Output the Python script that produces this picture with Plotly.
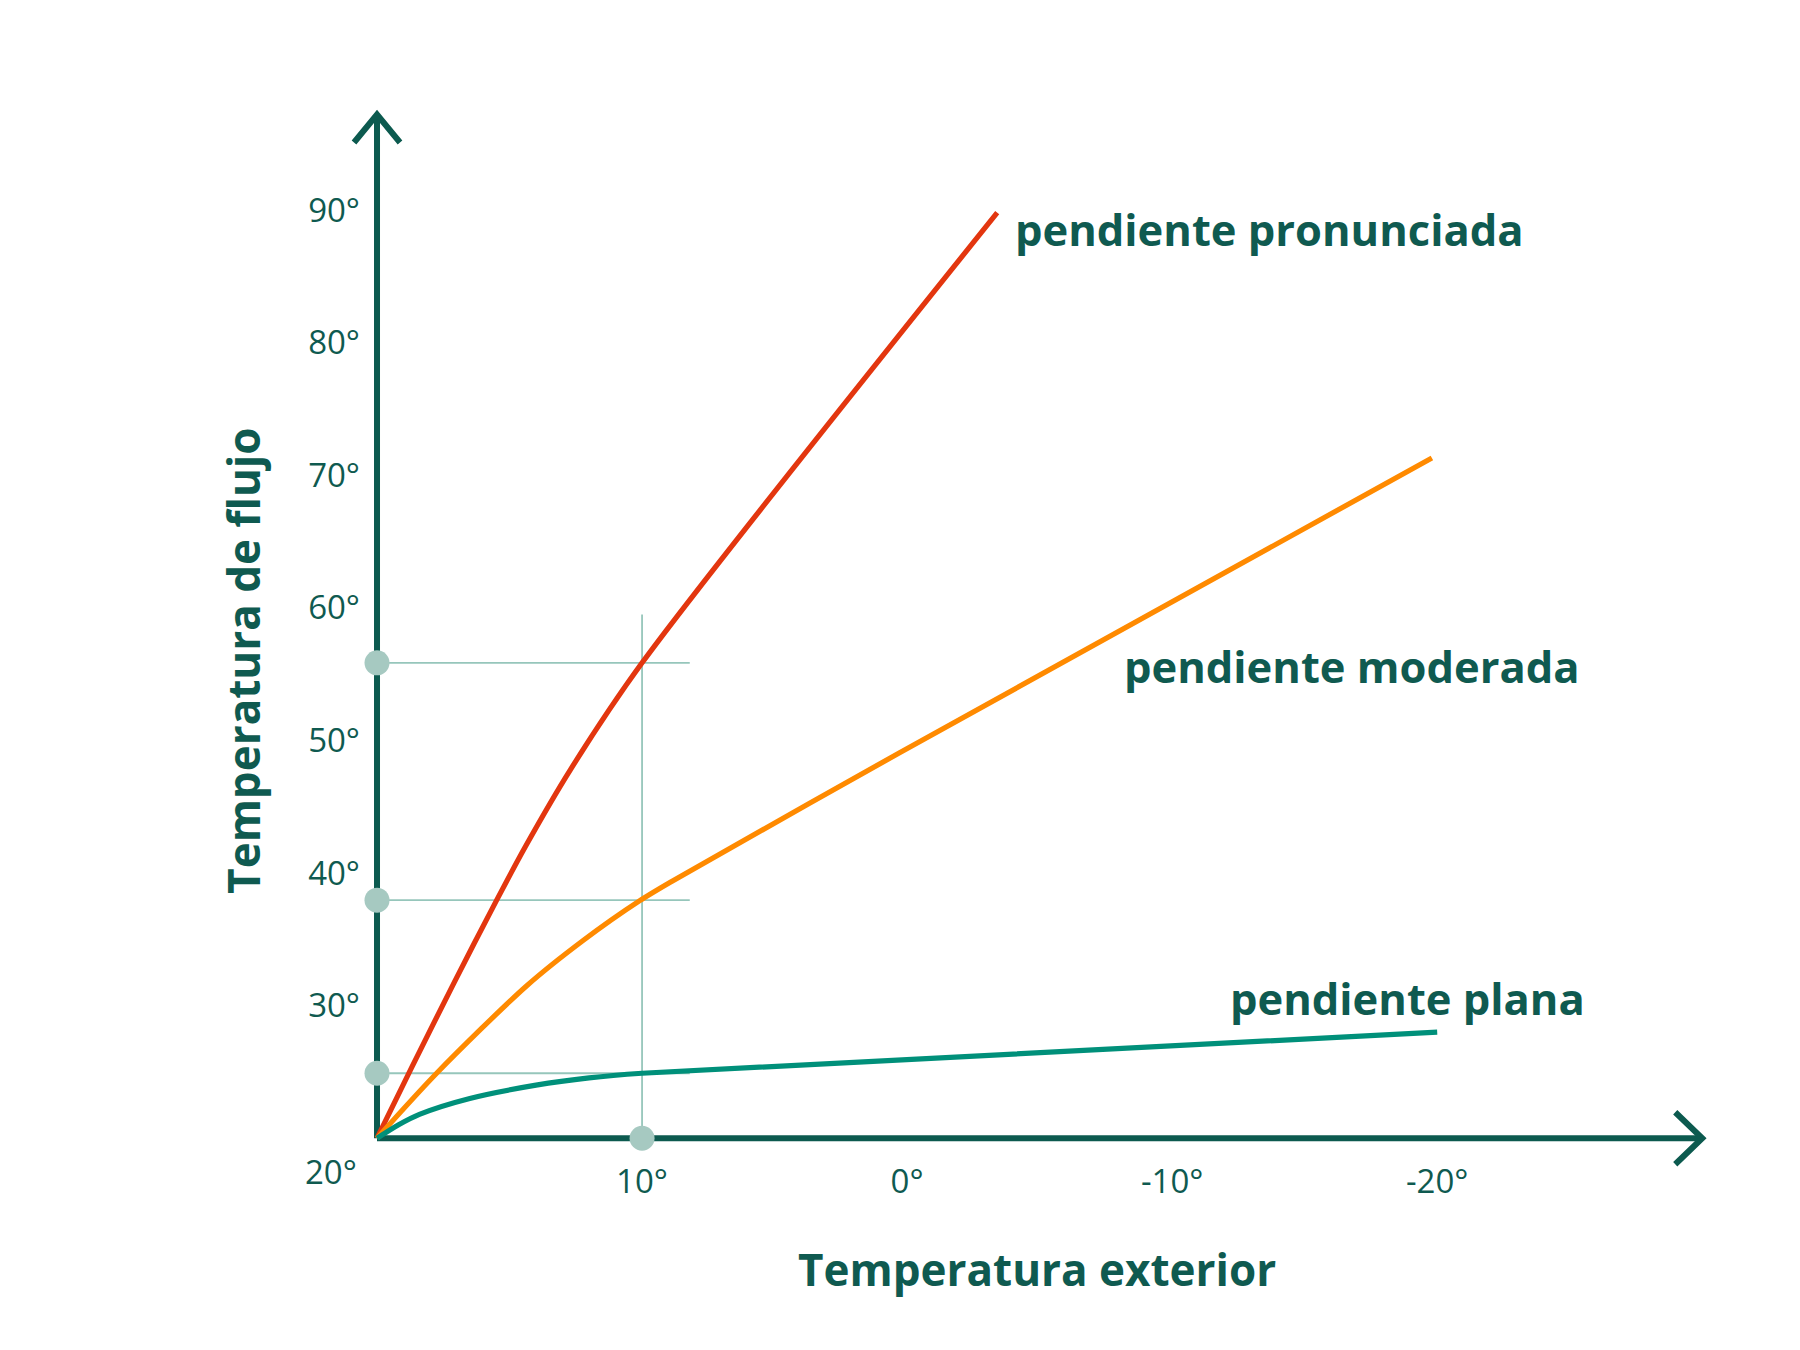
import plotly.graph_objects as go

# ---------------- data ----------------
# outside temperature (x, reversed: 20° at left, -30° at right) vs flow temperature (y)
red_x = [20, 18.7, 17.1, 15.5, 14.4, 12.7, 10, -3.4]
red_y = [20, 25.3, 31.7, 37.9, 42.0, 47.8, 55.85, 89.8]

orange_x = [20, 17.75, 14.35, 12.2, 10.1, 8.9, 0.3, -19.8]
orange_y = [20, 24.9, 31.5, 34.95, 37.9, 39.35, 49.05, 71.3]

green_x = [20, 19.2, 18.4, 16.5, 14.0, 12.0, 10, -20]
green_y = [20, 21.0, 21.8, 23.0, 24.0, 24.55, 24.9, 28.0]

series_names = ["pendiente pronunciada", "pendiente moderada", "pendiente plana"]
label_x = [-4.0, -8.1, -12.1]
label_y = [88.5, 55.6, 30.5]

guide_x = 10                     # outside temperature marked by the guide
guide_y = [55.85, 37.95, 24.9]   # resulting flow temperatures
guide_h_end = 8.2
guide_v_top = 59.5

x_ticks = [10, 0, -10, -20]
x_tick_text = ["10°", "0°", "-10°", "-20°"]
y_ticks = [30, 40, 50, 60, 70, 80, 90]
y_tick_text = ["30°", "40°", "50°", "60°", "70°", "80°", "90°"]
origin_text = "20°"

x_title = "Temperatura exterior"
y_title = "Temperatura de flujo"

# axis extents
x0, x_end = 20, -30
y0, y_end = 20, 97.2
x_range = [22, -31.5]
y_range = [17, 99.5]

# ---------------- styles ----------------
DARK = "#0c5a4f"
TEXT = "#0f5a50"
RED = "#e3360f"
ORANGE = "#ff8a00"
GREEN = "#00907a"
GUIDE = "#96c6bb"
DOT = "#a6c9c1"
FONT = "Open Sans"

fig = go.Figure()

# guide lines
for gy in guide_y:
    fig.add_trace(go.Scatter(x=[x0, guide_h_end], y=[gy, gy], mode="lines",
                             line=dict(color=GUIDE, width=1.8), hoverinfo="skip"))
fig.add_trace(go.Scatter(x=[guide_x, guide_x], y=[y0, guide_v_top], mode="lines",
                         line=dict(color=GUIDE, width=1.8), hoverinfo="skip"))

# curves
for xs, ys, col in [(red_x, red_y, RED), (orange_x, orange_y, ORANGE), (green_x, green_y, GREEN)]:
    fig.add_trace(go.Scatter(x=xs, y=ys, mode="lines",
                             line=dict(color=col, width=5.2, shape="spline", smoothing=0.8)))

# dots on axes
fig.add_trace(go.Scatter(x=[x0] * len(guide_y) + [guide_x], y=guide_y + [y0], mode="markers",
                         marker=dict(color=DOT, size=25, line=dict(width=0)), hoverinfo="skip"))

# axis lines with chevron arrows
AXW = 6
shapes = [
    dict(type="line", x0=x0, y0=y0, x1=x0, y1=y_end, xref="x", yref="y",
         line=dict(color=DARK, width=AXW), layer="below"),
    dict(type="line", x0=x0, y0=y0, x1=x_end, y1=y0, xref="x", yref="y",
         line=dict(color=DARK, width=AXW), layer="below"),
    dict(type="path", xref="x", yref="y", xsizemode="pixel", ysizemode="pixel",
         xanchor=x0, yanchor=y_end, path="M -23,-28 L 0,0 L 23,-28",
         line=dict(color=DARK, width=AXW), layer="below"),
    dict(type="path", xref="x", yref="y", xsizemode="pixel", ysizemode="pixel",
         xanchor=x_end, yanchor=y0, path="M -27,26 L 0,0 L -27,-26",
         line=dict(color=DARK, width=AXW), layer="below"),
]

annotations = []
for name, lx, ly in zip(series_names, label_x, label_y):
    annotations.append(dict(x=lx, y=ly, xref="x", yref="y", text=name, showarrow=False,
                            xanchor="left", yanchor="middle",
                            font=dict(family=FONT, size=43.5, color=TEXT, weight=700)))
annotations.append(dict(x=x0, y=y0, xref="x", yref="y", text=origin_text, showarrow=False,
                        xanchor="right", yanchor="middle", xshift=-18, yshift=-33,
                        font=dict(family=FONT, size=33, color=TEXT)))
annotations.append(dict(x=(x0 + x_end) / 2 + 0.1, y=y0, xref="x", yref="y", text=x_title,
                        showarrow=False, xanchor="center", yanchor="middle", yshift=-131,
                        font=dict(family=FONT, size=44, color=TEXT, weight=700)))
annotations.append(dict(x=x0, y=56, xref="x", yref="y", text=y_title, showarrow=False,
                        xanchor="center", yanchor="middle", xshift=-134, textangle=-90,
                        font=dict(family=FONT, size=44, color=TEXT, weight=700)))

fig.update_layout(
    width=1800, height=1350,
    margin=dict(l=324, r=58, t=84, b=172),
    paper_bgcolor="white", plot_bgcolor="white",
    showlegend=False,
    shapes=shapes, annotations=annotations,
    xaxis=dict(range=x_range, showgrid=False, zeroline=False, showline=False,
               tickvals=x_ticks, ticktext=x_tick_text, ticks="",
               anchor="free", position=(y0 - y_range[0]) / (y_range[1] - y_range[0]),
               ticklabelstandoff=21,
               tickfont=dict(family=FONT, size=33, color=TEXT)),
    yaxis=dict(range=y_range, showgrid=False, zeroline=False, showline=False,
               tickvals=y_ticks, ticktext=y_tick_text, ticks="",
               anchor="free", position=(x_range[0] - x0) / (x_range[0] - x_range[1]),
               ticklabelstandoff=17,
               tickfont=dict(family=FONT, size=33, color=TEXT)),
)

fig.write_html("out.html")
